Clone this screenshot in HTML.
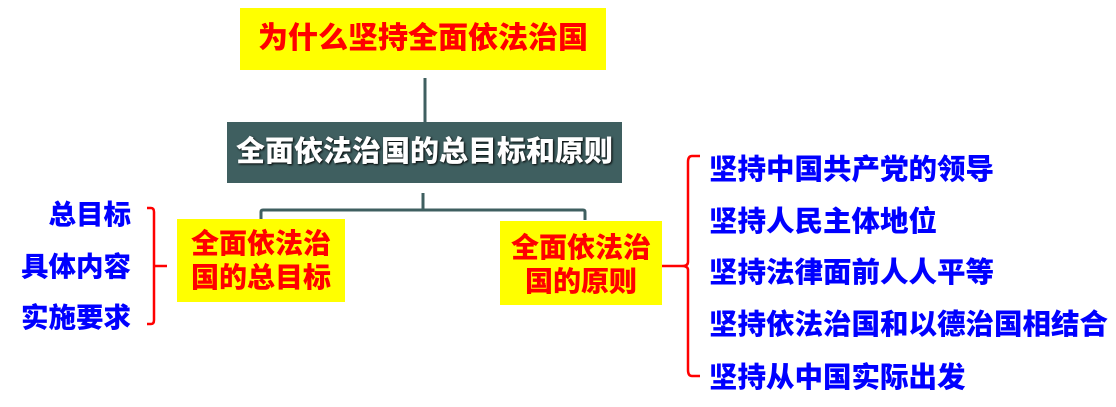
<!DOCTYPE html>
<html><head><meta charset="utf-8"><style>
body{margin:0;width:1116px;height:407px;background:#fff;position:relative;overflow:hidden;font-family:"Liberation Sans","Noto Sans CJK SC",sans-serif;font-weight:900}
.a{position:absolute;white-space:nowrap}
.y{background:#ffff00;color:#ff0000;text-align:center}
.b{color:#0000ff;font-size:28.5px;left:709px;line-height:30px}
.l{color:#0000ff;font-size:27.5px;right:985px;line-height:30px}
</style></head><body>
<div class="a y" style="left:240px;top:8px;width:366px;height:62px;line-height:62px;font-size:30px">为什么坚持全面依法治国</div>
<div class="a" style="left:227px;top:122px;width:395px;height:61px;background:#3f5f60;color:#fff;font-size:29px;line-height:61px;text-align:center;text-shadow:1px 1px 2px #000">全面依法治国的总目标和原则</div>
<svg class="a" style="left:0;top:0" width="1116" height="407">
<g stroke="#3f5f60" stroke-width="3" fill="none">
<line x1="425" y1="78" x2="425" y2="122"/>
<path d="M423 193V210M261 220V212Q261 210 263 210H583Q585 210 585 212V220"/>
</g>
<g stroke="#ff0000" stroke-width="2.5" fill="none">
<path d="M700 156H692Q688 156 688 162V262Q688 266 682 266Q688 266 688 270V370Q688 376 692 376H700"/>
<line x1="662" y1="266" x2="682" y2="266"/>
<path d="M147 208H151Q154 208 154 212V320Q154 324 151 324H147"/>
<line x1="154" y1="266" x2="167" y2="266"/>
</g>
</svg>
<div class="a y" style="left:177px;top:219px;width:168px;height:83px;font-size:28px;line-height:34px;padding-top:8px;box-sizing:border-box">全面依法治<br>国的总目标</div>
<div class="a y" style="left:500px;top:221px;width:162px;height:84px;font-size:28px;line-height:34px;padding-top:10px;box-sizing:border-box">全面依法治<br>国的原则</div>
<div class="a l" style="top:200px">总目标</div>
<div class="a l" style="top:252px">具体内容</div>
<div class="a l" style="top:303px">实施要求</div>
<div class="a b" style="top:155px">坚持中国共产党的领导</div>
<div class="a b" style="top:207px">坚持人民主体地位</div>
<div class="a b" style="top:258px">坚持法律面前人人平等</div>
<div class="a b" style="top:310px">坚持依法治国和以德治国相结合</div>
<div class="a b" style="top:363px">坚持从中国实际出发</div>
</body></html>
